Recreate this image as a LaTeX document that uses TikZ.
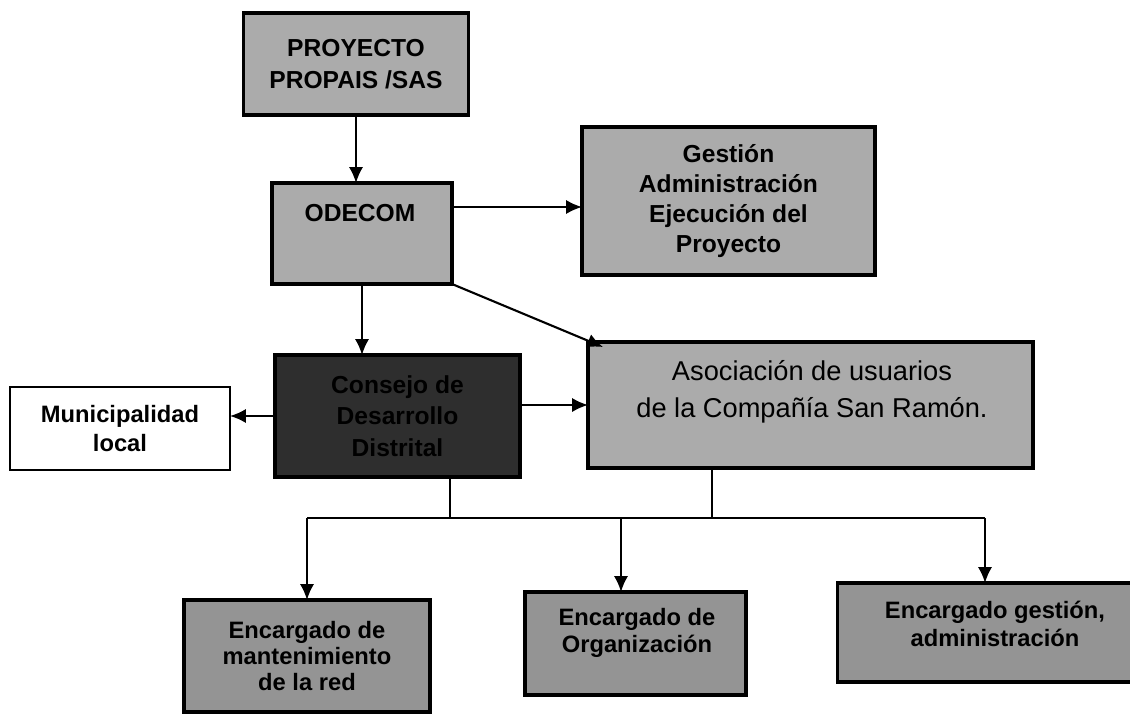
\documentclass[tikz,border=0pt]{standalone}
\usepackage{fontspec}
\setmainfont{Liberation Sans}
\usetikzlibrary{arrows.meta}
\tikzset{>={Latex[length=9pt, width=8pt]}}
\tikzset{
    caja/.style={draw, line width=1.8pt, fill=black!33, inner sep=0pt, outer sep=0pt, align=center, font=\bfseries\fontsize{14}{18}\selectfont},
    cargo/.style={caja, fill=black!42, font=\bfseries\fontsize{13.5}{15}\selectfont},
    texto/.style={align=center, inner sep=0pt},
    flecha/.style={->, line width=1.2pt},
    linea/.style={line width=1.2pt},
}

\begin{document}
\begin{tikzpicture}[x=0.02cm, y=-0.02cm]
    \useasboundingbox (0, 0) rectangle (1130, 714);
    \clip (0, 0) rectangle (1130, 714);
    % cajas
    \node[caja, minimum width=4.5cm, minimum height=2.04cm](proy) at (356, 64) {PROYECTO\\PROPAIS /SAS};
    \node[caja, minimum width=3.6cm, minimum height=2.02cm](odecom) at (362, 233.5) {};
    \node[texto, font=\bfseries\fontsize{14}{18}\selectfont](odecomtxt) at (360, 213) {ODECOM};
    \node[caja, minimum width=5.86cm, minimum height=2.96cm, font=\bfseries\fontsize{14}{17}\selectfont](gestion) at (728.5, 201) {Gesti\'on\\Administraci\'on\\Ejecuci\'on del\\Proyecto};
    \node[caja, fill=black!82, minimum width=4.9cm, minimum height=2.44cm](consejo) at (397.5, 416) {Consejo de\\Desarrollo\\Distrital};
    \node[caja, minimum width=8.9cm, minimum height=2.52cm](asoc) at (810.5, 405) {};
    \node[texto, font=\fontsize{15.5}{21}\selectfont](asoctxt) at (812, 392) {Asociaci\'on de usuarios\\de la Compa\~n\'ia San Ram\'on.};
    \node[caja, fill=white, line width=1.5pt, minimum width=4.4cm, minimum height=1.66cm, font=\bfseries\fontsize{13.5}{16.5}\selectfont](muni) at (120, 428.5) {Municipalidad\\local};
    \node[cargo, minimum width=4.92cm, minimum height=2.24cm](red) at (307, 656) {Encargado de\\mantenimiento\\de la red};
    \node[cargo, minimum width=4.42cm, minimum height=2.06cm](org) at (635.5, 643.5) {};
    \node[texto, font=\bfseries\fontsize{13.5}{15.5}\selectfont](orgtxt) at (637, 633) {Encargado de\\Organizaci\'on};
    \node[cargo, minimum width=5.9cm, minimum height=1.98cm](admin) at (985, 632.5) {};
    \node[texto, font=\bfseries\fontsize{13.5}{15.5}\selectfont](admintxt) at (995, 624) {Encargado gesti\'on,\\administraci\'on};
    % conexiones
    \coordinate (g) at (0, 207);
    \coordinate (b1) at (450, 518);
    \coordinate (b2) at (712, 518);
    \draw[flecha](proy.south)--(proy.south |- odecom.north);
    \draw[flecha](odecom.east |- g)--(gestion.west |- g);
    \draw[flecha](odecom.south east)--([xshift=0.3cm, yshift=-0.1cm]asoc.north west);
    \draw[flecha](odecom.south)--(odecom.south |- consejo.north);
    \draw[flecha](consejo.west)--(muni.east |- consejo.west);
    \draw[flecha](consejo.east |- asoc.west)--(asoc.west);
    \draw[linea](consejo.south -| b1)--(b1);
    \draw[linea](asoc.south -| b2)--(b2);
    \draw[linea](red.north |- b1)--(admin.north |- b1);
    \draw[flecha](red.north |- b1)--(red.north);
    \draw[flecha]([xshift=-0.29cm]org.north |- b1)--([xshift=-0.29cm]org.north);
    \draw[flecha](admin.north |- b1)--(admin.north);
\end{tikzpicture}
\end{document}
